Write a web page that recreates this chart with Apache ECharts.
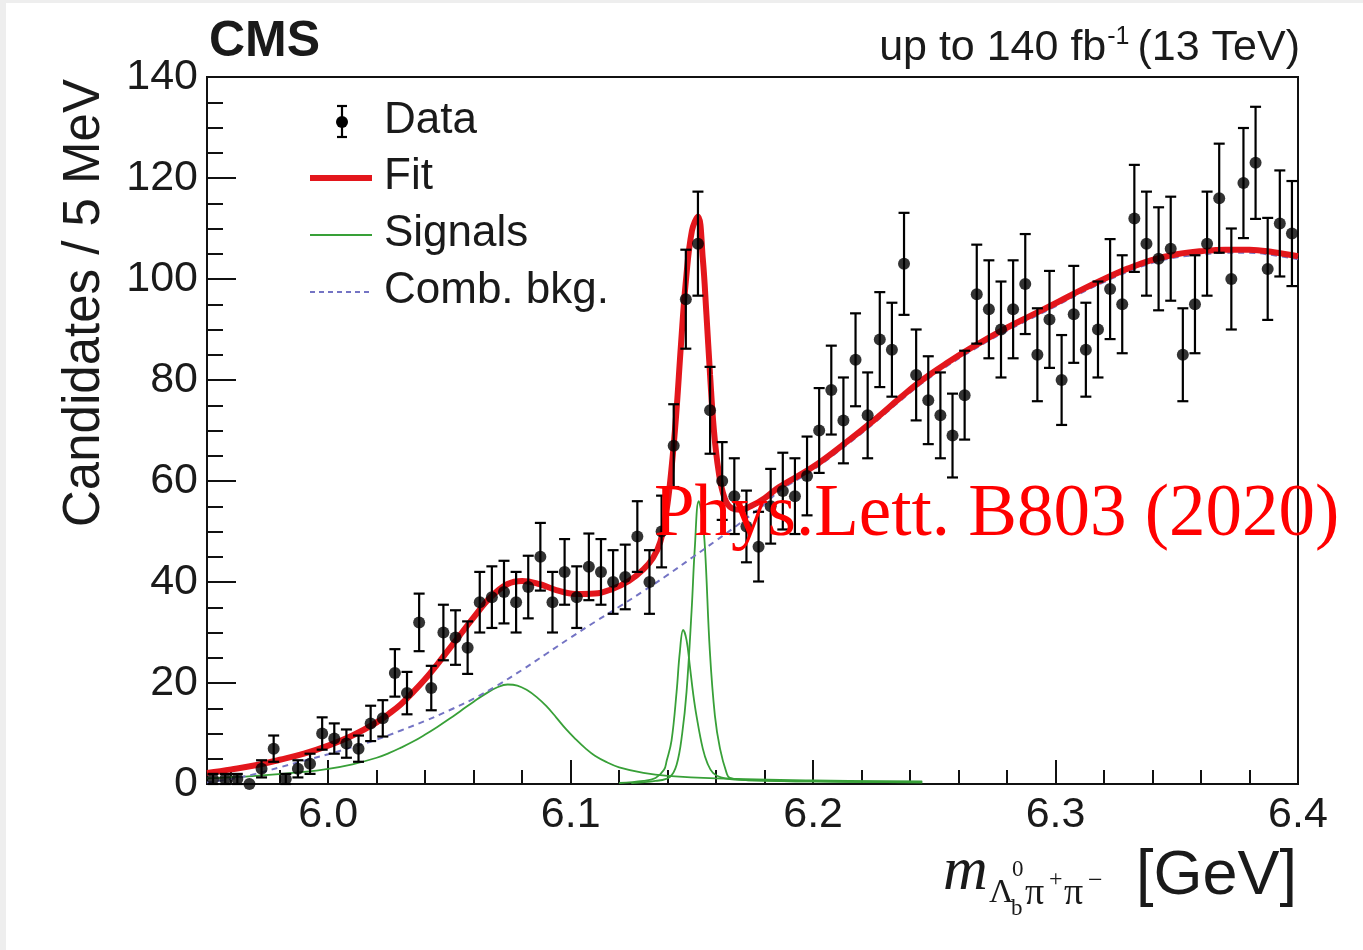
<!DOCTYPE html>
<html>
<head>
<meta charset="utf-8">
<style>
html,body{margin:0;padding:0;background:#fff;}
#chart{width:1363px;height:950px;}
</style>
<script src="https://cdn.jsdelivr.net/npm/echarts@6/dist/echarts.min.js"></script>
</head>
<body>
<div id="chart"></div>
<script>
// ---------------- data ----------------
const binStart = 5.95;      // GeV, lower edge of first bin
const binWidth = 0.005;     // 5 MeV bins
const counts = [1,1,1,0,3,7,1,3,4,10,9,8,7,12,13,22,18,32,19,30,
  29,27,36,37,38,36,39,45,36,42,37,43,42,40,41,49,40,50,67,96,
  107,74,60,57,51,47,55,58,57,61,70,78,72,84,73,88,86,103,81,76,
  73,69,77,97,94,90,94,99,85,92,80,93,86,90,98,95,112,107,104,106,
  85,95,107,116,100,119,123,102,111,109];
const errors = [1.0,1.0,1.0,0,1.7,2.6,1.0,1.7,2.0,3.2,3.0,2.8,2.6,3.5,3.6,4.7,4.2,5.7,4.4,5.5,
  5.4,5.2,6.0,6.1,6.2,6.0,6.2,6.7,6.0,6.5,6.1,6.6,6.5,6.3,6.4,7.0,6.3,7.1,8.2,9.8,
  10.3,8.6,7.7,7.5,7.1,6.9,7.4,7.6,7.5,7.8,8.4,8.8,8.5,9.2,8.5,9.4,9.3,10.1,9.0,8.7,
  8.5,8.3,8.8,9.8,9.7,9.5,9.7,9.9,9.2,9.6,8.9,9.6,9.3,9.5,9.9,9.7,10.6,10.3,10.2,10.3,
  9.2,9.7,10.3,10.8,10.0,10.9,11.1,10.1,10.5,10.4];

const fitCurve = [[5.950,2.2],[5.960,2.9],[5.970,3.7],[5.980,4.8],[5.990,6.0],[6.000,7.6],[6.010,9.6],
  [6.020,12.2],[6.025,13.9],[6.030,15.8],[6.035,18.2],[6.040,20.8],[6.045,23.7],[6.050,26.8],[6.055,29.9],
  [6.060,33.0],[6.067,37.0],[6.074,39.6],[6.080,40.2],
  [6.087,39.6],[6.094,38.4],[6.102,37.6],[6.110,37.7],[6.117,38.6],[6.124,40.2],[6.130,42.5],[6.134,44.8],
  [6.137,48.0],[6.1395,54],[6.1415,62],[6.1435,73],[6.1455,87],[6.1475,99.5],[6.150,109.5],[6.1525,112.4],
  [6.1545,104],[6.156,93],[6.1575,81],[6.159,70.5],[6.161,62],[6.1635,56.6],[6.1665,54.6],[6.170,54.3],
  [6.175,55.2],[6.180,56.6],[6.186,58.8],[6.200,62.8],[6.214,67.8],[6.225,72.0],[6.236,76.5],[6.245,80.0],
  [6.255,83.3],[6.265,86.3],[6.277,89.6],[6.290,92.8],[6.300,95.2],[6.310,97.7],[6.320,100.0],[6.330,102.1],
  [6.340,103.8],[6.350,104.9],[6.360,105.5],[6.370,105.8],[6.380,105.8],[6.390,105.3],[6.400,104.5]];

const bkgCurve = [[5.950,0.3],[5.960,1.0],[5.970,2.0],[5.980,3.3],[5.990,4.6],[6.000,5.9],[6.010,7.3],
  [6.020,8.8],[6.030,10.6],[6.040,12.5],[6.050,14.6],[6.060,16.9],[6.070,19.6],[6.080,22.6],[6.090,25.8],
  [6.100,29.0],[6.110,32.1],[6.120,35.1],[6.130,38.2],[6.140,41.4],[6.150,44.8],[6.160,48.2],[6.170,51.7],
  [6.180,55.4],[6.186,58.0],[6.200,62.2],[6.214,67.2],[6.225,71.4],[6.236,75.9],[6.245,79.4],[6.255,82.7],
  [6.265,85.7],[6.277,89.0],[6.290,92.2],[6.300,94.6],[6.310,97.1],[6.320,99.4],[6.330,101.5],[6.340,103.2],
  [6.350,104.3],[6.360,104.8],[6.370,105.2],[6.380,105.2],[6.390,104.7],[6.400,103.9]];

const signalBroad = [[5.950,1.1],[5.970,1.6],[5.990,2.4],[6.000,3.0],[6.010,3.9],[6.020,5.2],[6.025,6.1],
  [6.030,7.2],[6.035,8.4],[6.040,9.8],[6.045,11.3],[6.050,12.9],[6.055,14.6],[6.060,16.3],[6.065,17.9],
  [6.070,19.2],[6.074,19.7],[6.078,19.5],[6.082,18.6],[6.086,17.2],[6.090,15.4],[6.094,13.2],[6.098,10.9],
  [6.102,8.9],[6.106,7.1],[6.110,5.6],[6.115,4.3],[6.120,3.3],[6.130,2.2],[6.140,1.6],[6.160,1.1],
  [6.200,0.7],[6.245,0.5]];

const signalNarrow1 = [[6.120,0.2],[6.130,0.6],[6.135,1.2],[6.1385,2.8],[6.1396,4.6],[6.1416,8.6],
  [6.1437,18.3],[6.1450,26.0],[6.1464,30.5],[6.1478,28.5],[6.1492,23.2],[6.1505,18.0],[6.1519,13.5],
  [6.1545,7.0],[6.1565,4.0],[6.1587,2.2],[6.162,1.3],[6.170,0.8],[6.200,0.5],[6.245,0.35]];

const signalNarrow2 = [[6.125,0.2],[6.135,0.6],[6.1409,1.4],[6.1437,3.8],[6.146,10.0],[6.1478,18.3],
  [6.1499,34.5],[6.1512,46.7],[6.1528,56.0],[6.1542,53.0],[6.1554,46.7],[6.1574,26.4],[6.1595,13.5],
  [6.1616,7.0],[6.1643,2.2],[6.1657,1.2],[6.175,0.7],[6.200,0.5],[6.245,0.35]];

const xTickValues = [6.0, 6.1, 6.2, 6.3, 6.4];
const xTickLabels = ['6.0', '6.1', '6.2', '6.3', '6.4'];
const xMinorValues = [5.96,5.98,6.02,6.04,6.06,6.08,6.12,6.14,6.16,6.18,6.22,6.24,6.26,6.28,6.32,6.34,6.36,6.38];

// ---------------- styles ----------------
const SANS = '"Liberation Sans", Arial, Helvetica, sans-serif';
const SERIF = '"Liberation Serif", "Times New Roman", serif';
const TXT = '#1a1a1a';
const RED = '#e3161c';
const GREEN = '#38a038';
const BLUE = '#7474c4';

const points = counts.map((c, i) => [binStart + binWidth * (i + 0.5), c]);
const bars = counts.map((c, i) => [binStart + binWidth * (i + 0.5), Math.max(0, c - errors[i]), c + errors[i], errors[i]])
  .filter(d => d[3] > 0);

function measure(text, font) {
  const c = document.createElement('canvas').getContext('2d');
  c.font = font;
  return c.measureText(text).width;
}

const chart = echarts.init(document.getElementById('chart'), null, {renderer: 'canvas'});

function errRender(params, api) {
  const x = api.value(0), lo = api.value(1), hi = api.value(2);
  const a = api.coord([x, hi]), b = api.coord([x, lo]);
  const hw = 5.5;
  const st = {stroke: '#000', lineWidth: 2.2};
  return {type: 'group', children: [
    {type: 'line', shape: {x1: a[0], y1: a[1], x2: b[0], y2: b[1]}, style: st},
    {type: 'line', shape: {x1: a[0] - hw, y1: a[1], x2: a[0] + hw, y2: a[1]}, style: st},
    {type: 'line', shape: {x1: b[0] - hw, y1: b[1], x2: b[0] + hw, y2: b[1]}, style: st}
  ]};
}

// header pieces
const hdrFont = 43, supFont = 25;
const hdr3 = '(13 TeV)', hdrSup = '-1', hdr1 = 'up to 140 fb';
const w3 = measure(hdr3, hdrFont + 'px "Liberation Sans"');
const wS = measure(hdrSup, supFont + 'px "Liberation Sans"');
const xRight = 1300;
const xSupR = xRight - w3 - 8;
const x1R = xSupR - wS - 1;

const graphics = [
  {type: 'rect', shape: {x: 0, y: 0, width: 1363, height: 3}, style: {fill: '#eeeeee'}, silent: true},
  {type: 'rect', shape: {x: 0, y: 0, width: 6, height: 950}, style: {fill: '#eeeeee'}, silent: true},
  {type: 'text', x: 209, y: 42, style: {text: 'CMS', font: 'bold 50px ' + SANS, fill: TXT, textAlign: 'left', textVerticalAlign: 'middle'}},
  {type: 'text', x: x1R, y: 48, style: {text: hdr1, font: hdrFont + 'px ' + SANS, fill: TXT, textAlign: 'right', textVerticalAlign: 'middle'}},
  {type: 'text', x: xSupR, y: 37, style: {text: hdrSup, font: supFont + 'px ' + SANS, fill: TXT, textAlign: 'right', textVerticalAlign: 'middle'}},
  {type: 'text', x: xRight, y: 48, style: {text: hdr3, font: hdrFont + 'px ' + SANS, fill: TXT, textAlign: 'right', textVerticalAlign: 'middle'}},
  // y axis title
  {type: 'text', x: 85, y: 303, rotation: Math.PI / 2, style: {text: 'Candidates / 5 MeV', font: '51px ' + SANS, fill: TXT, textAlign: 'center', textVerticalAlign: 'middle'}},
  // x axis title
  {type: 'text', x: 943, y: 873, style: {text: 'm', font: 'italic 62px ' + SERIF, fill: TXT, textAlign: 'left', textVerticalAlign: 'middle'}},
  {type: 'text', x: 989, y: 893, style: {text: 'Λ', font: '34px ' + SERIF, fill: TXT, textAlign: 'left', textVerticalAlign: 'middle'}},
  {type: 'text', x: 1012, y: 870, style: {text: '0', font: '23px ' + SERIF, fill: TXT, textAlign: 'left', textVerticalAlign: 'middle'}},
  {type: 'text', x: 1011, y: 909, style: {text: 'b', font: '23px ' + SERIF, fill: TXT, textAlign: 'left', textVerticalAlign: 'middle'}},
  {type: 'text', x: 1025, y: 894, style: {text: 'π', font: '38px ' + SERIF, fill: TXT, textAlign: 'left', textVerticalAlign: 'middle'}},
  {type: 'text', x: 1049, y: 880, style: {text: '+', font: '24px ' + SERIF, fill: TXT, textAlign: 'left', textVerticalAlign: 'middle'}},
  {type: 'text', x: 1064, y: 894, style: {text: 'π', font: '38px ' + SERIF, fill: TXT, textAlign: 'left', textVerticalAlign: 'middle'}},
  {type: 'text', x: 1088, y: 881, style: {text: '−', font: '26px ' + SERIF, fill: TXT, textAlign: 'left', textVerticalAlign: 'middle'}},
  {type: 'text', x: 1136, y: 877, style: {text: '[GeV]', font: '63px ' + SANS, fill: TXT, textAlign: 'left', textVerticalAlign: 'middle'}},
  // legend
  {type: 'line', shape: {x1: 342, y1: 106, x2: 342, y2: 137}, style: {stroke: '#000', lineWidth: 2.2}},
  {type: 'line', shape: {x1: 337, y1: 106, x2: 347, y2: 106}, style: {stroke: '#000', lineWidth: 2.2}},
  {type: 'line', shape: {x1: 337, y1: 137, x2: 347, y2: 137}, style: {stroke: '#000', lineWidth: 2.2}},
  {type: 'circle', shape: {cx: 342, cy: 122, r: 6}, style: {fill: '#000'}},
  {type: 'text', x: 384, y: 121, style: {text: 'Data', font: '44px ' + SANS, fill: TXT, textAlign: 'left', textVerticalAlign: 'middle'}},
  {type: 'line', shape: {x1: 310, y1: 178, x2: 372, y2: 178}, style: {stroke: RED, lineWidth: 6}},
  {type: 'text', x: 384, y: 177, style: {text: 'Fit', font: '44px ' + SANS, fill: TXT, textAlign: 'left', textVerticalAlign: 'middle'}},
  {type: 'line', shape: {x1: 310, y1: 235, x2: 372, y2: 235}, style: {stroke: GREEN, lineWidth: 2}},
  {type: 'text', x: 384, y: 234, style: {text: 'Signals', font: '44px ' + SANS, fill: TXT, textAlign: 'left', textVerticalAlign: 'middle'}},
  {type: 'line', shape: {x1: 310, y1: 292, x2: 372, y2: 292}, style: {stroke: BLUE, lineWidth: 2, lineDash: [5, 4]}},
  {type: 'text', x: 384, y: 291, style: {text: 'Comb. bkg.', font: '44px ' + SANS, fill: TXT, textAlign: 'left', textVerticalAlign: 'middle'}},
  // reference annotation
  {type: 'text', x: 654, y: 516, z: 100, style: {text: 'Phys.Lett. B803 (2020)', font: '73px ' + SERIF, fill: '#ff0000', textAlign: 'left', textVerticalAlign: 'middle'}}
];

const option = {
  animation: false,
  backgroundColor: '#ffffff',
  grid: {left: 207, right: 65, top: 77, bottom: 166, show: true, borderColor: '#111', borderWidth: 2, backgroundColor: 'transparent', containLabel: false},
  xAxis: [
    {type: 'value', min: 5.95, max: 6.4, position: 'bottom',
     axisLine: {show: false},
     splitLine: {show: false},
     axisTick: {show: true, inside: true, length: 24, customValues: xTickValues, lineStyle: {color: '#111', width: 2}},
     axisLabel: {show: true, customValues: xTickValues, margin: 10, fontFamily: SANS, fontSize: 43, color: TXT,
       formatter: v => { let k = 0; xTickValues.forEach((t, i) => { if (Math.abs(t - v) < Math.abs(xTickValues[k] - v)) k = i; }); return xTickLabels[k]; }}},
    {type: 'value', min: 5.95, max: 6.4, position: 'bottom', offset: 0,
     axisLine: {show: false}, splitLine: {show: false}, axisLabel: {show: false},
     axisTick: {show: true, inside: true, length: 14, customValues: xMinorValues, lineStyle: {color: '#111', width: 2}}}
  ],
  yAxis: [{type: 'value', min: 0, max: 140, interval: 20,
    axisLine: {show: false}, splitLine: {show: false},
    axisTick: {show: true, inside: true, length: 29, lineStyle: {color: '#111', width: 2}},
    minorTick: {show: true, splitNumber: 4, length: 16, lineStyle: {color: '#111', width: 2}},
    minorSplitLine: {show: false},
    axisLabel: {margin: 9, fontFamily: SANS, fontSize: 43, color: TXT}}],
  graphic: graphics,
  series: [
    {name: 'Signal broad', type: 'line', data: signalBroad, smooth: 0.4, showSymbol: false, z: 2,
     lineStyle: {color: GREEN, width: 1.8}, itemStyle: {color: GREEN}},
    {name: 'Signal narrow 1', type: 'line', data: signalNarrow1, smooth: 0.4, showSymbol: false, z: 2,
     lineStyle: {color: GREEN, width: 1.8}, itemStyle: {color: GREEN}},
    {name: 'Signal narrow 2', type: 'line', data: signalNarrow2, smooth: 0.4, showSymbol: false, z: 2,
     lineStyle: {color: GREEN, width: 1.8}, itemStyle: {color: GREEN}},
    {name: 'Comb. bkg.', type: 'line', data: bkgCurve, smooth: 0.4, showSymbol: false, z: 3,
     lineStyle: {color: BLUE, width: 2, type: [6, 5]}, itemStyle: {color: BLUE}},
    {name: 'Fit', type: 'line', data: fitCurve, smooth: 0.4, showSymbol: false, z: 4,
     lineStyle: {color: RED, width: 6}, itemStyle: {color: RED}},
    {name: 'Errors', type: 'custom', data: bars, renderItem: errRender, z: 5, encode: {x: 0, y: [1, 2]}},
    {name: 'Data', type: 'scatter', data: points, symbol: 'circle', symbolSize: 12, z: 6,
     itemStyle: {color: '#000'}}
  ]
};
chart.setOption(option);
</script>
</body>
</html>
